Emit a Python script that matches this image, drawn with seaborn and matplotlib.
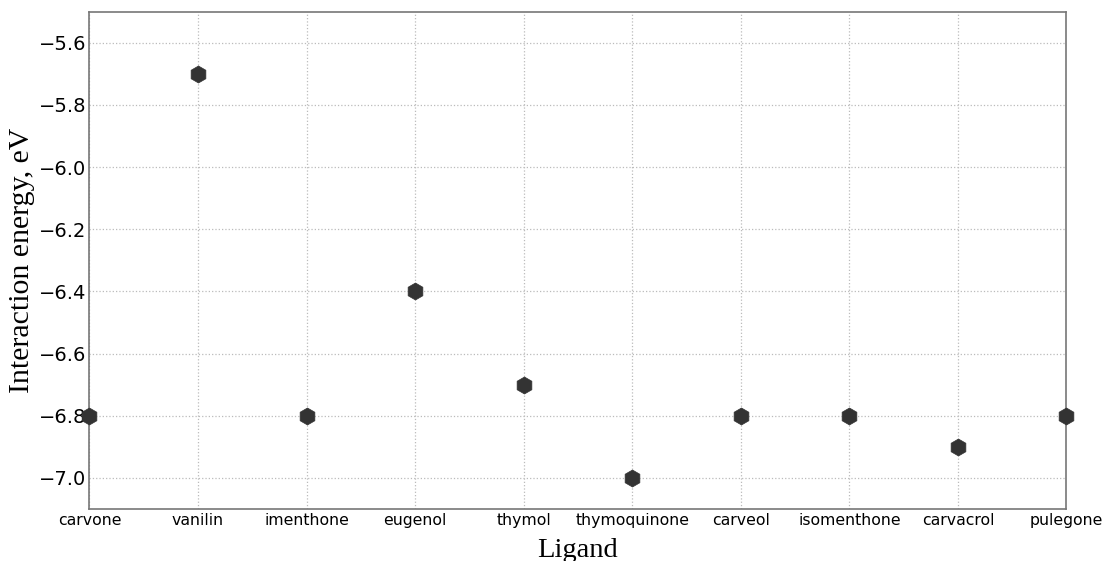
import matplotlib
matplotlib.use("Agg")
import matplotlib.pyplot as plt
import pandas as pd
import seaborn as sns

ligands = ["carvone", "vanilin", "imenthone", "eugenol", "thymol",
           "thymoquinone", "carveol", "isomenthone", "carvacrol", "pulegone"]
energy = [-6.8, -5.7, -6.8, -6.4, -6.7, -7.0, -6.8, -6.8, -6.9, -6.8]

df = pd.DataFrame({"Ligand": ligands, "energy": energy})
df["pos"] = range(len(ligands))

sns.set_style("white")
fig, ax = plt.subplots(figsize=(11.04, 5.61), dpi=100)

sns.scatterplot(data=df, x="pos", y="energy", marker="h", s=150,
                color="#333333", edgecolor="#333333", linewidth=0.5,
                ax=ax, zorder=3, clip_on=False, legend=False)

ax.set_xlim(0, len(ligands) - 1)
ax.set_ylim(-7.1, -5.5)
ax.set_xticks(df["pos"])
ax.set_xticklabels(ligands, fontsize=11.3, color="black")
ax.set_yticks([-7.0, -6.8, -6.6, -6.4, -6.2, -6.0, -5.8, -5.6])
ax.set_yticklabels([f"\u2212{abs(v):.1f}" for v in ax.get_yticks()],
                   fontsize=14, color="black")
ax.tick_params(axis="x", length=0, pad=3)
ax.tick_params(axis="y", length=0, pad=2)

ax.grid(True, linestyle=":", color="#bbbbbb", linewidth=0.9)
for sp in ax.spines.values():
    sp.set_color("#777777")
    sp.set_linewidth(1.2)

ax.set_xlabel("Ligand", family="Liberation Serif", fontsize=20.5,
              color="black", labelpad=7)
ax.set_ylabel("Interaction energy, eV", family="Liberation Serif",
              fontsize=21.5, color="black", labelpad=3)

fig.subplots_adjust(left=0.081, right=0.966, top=0.979, bottom=0.093)
fig.savefig("out.png", dpi=100)
